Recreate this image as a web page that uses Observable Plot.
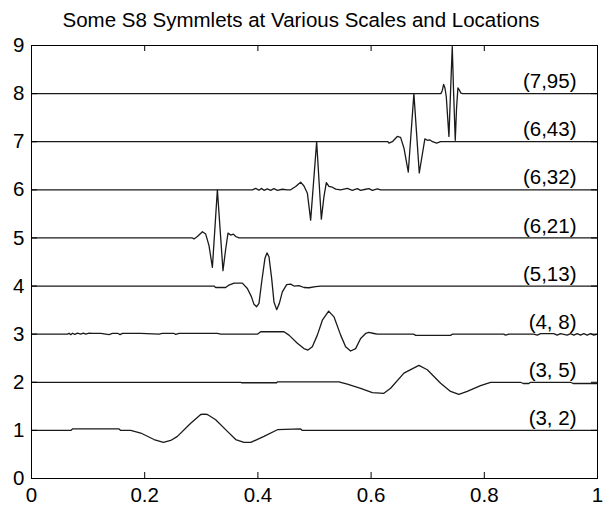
<!DOCTYPE html>
<html><head><meta charset="utf-8">
<script src="https://cdn.jsdelivr.net/npm/d3@7"></script>
<script src="https://cdn.jsdelivr.net/npm/@observablehq/plot@0.6"></script>
<style>body{margin:0;background:#fff}</style>
</head><body><div id="chart"></div>
<script>
const title = "Some S8 Symmlets at Various Scales and Locations";
const names = ["(3, 2)", "(3, 5)", "(4, 8)", "(5,13)", "(6,21)", "(6,32)", "(6,43)", "(7,95)"];
const levels = [1, 2, 3, 4, 5, 6, 7, 8];
const xTicks = [0, 0.2, 0.4, 0.6, 0.8, 1];
const yTicks = [0, 1, 2, 3, 4, 5, 6, 7, 8, 9];

// (3,2)
const w32_t = [0, 0.0694, 0.0724, 0.1547, 0.1577, 0.1753, 0.1930, 0.2165, 0.2331, 0.2460, 0.2578, 0.2813, 0.2990, 0.3048, 0.3108, 0.3254, 0.3461, 0.3608, 0.3755, 0.3873, 0.4107, 0.4344, 0.4755, 0.4785, 1];
const w32_v = [0, 0, 0.03, 0.03, 0, 0, -0.055, -0.19, -0.25, -0.21, -0.125, 0.15, 0.33, 0.34, 0.33, 0.22, -0.02, -0.19, -0.25, -0.25, -0.125, 0.014, 0.03, 0, 0];
// (3,5)
const w35_t = [0, 0.3696, 0.3710, 0.4330, 0.4344, 0.5440, 0.5462, 0.5580, 0.5815, 0.6022, 0.6226, 0.6345, 0.6580, 0.6844, 0.6993, 0.7228, 0.7404, 0.7551, 0.7699, 0.7934, 0.8111, 0.8640, 0.8688, 0.8787, 0.8817, 0.9523, 0.9571, 1];
const w35_v = [0, 0, -0.01, -0.01, 0.01, 0.01, 0, -0.04, -0.125, -0.215, -0.23, -0.125, 0.19, 0.35, 0.26, -0.02, -0.19, -0.25, -0.19, -0.07, 0, 0, -0.025, -0.025, 0, 0, -0.025, -0.025];
// (4,8)
const w48_t = [0, 0.0636, 0.0664, 0.0694, 0.0724, 0.0765, 0.0812, 0.0870, 0.0918, 0.0959, 0.1017, 0.1077, 0.1224, 0.1312, 0.1370, 0.1430, 0.1529, 0.1565, 0.1607, 0.1930, 0.2253, 0.2313, 0.2518, 0.2548, 0.2606, 0.3285, 0.3343, 0.3991, 0.4049, 0.4461, 0.4549, 0.4697, 0.4814, 0.4884, 0.4962, 0.5050, 0.5139, 0.5250, 0.5344, 0.5462, 0.5550, 0.5638, 0.5727, 0.5815, 0.5903, 0.5961, 0.6050, 0.6110, 0.6756, 0.6786, 0.7404, 0.7434, 0.8345, 0.8375, 0.8434, 0.8875, 0.8935, 0.8994, 0.9228, 0.9288, 0.9346, 0.9465, 0.9523, 0.9582, 0.9642, 0.9700, 0.9758, 0.9818, 0.9876, 0.9935, 1];
const w48_v = [0, 0, 0.02, -0.01, 0.02, -0.005, 0.02, 0, 0.02, 0, 0.02, 0.015, 0.015, 0, -0.01, 0.015, 0.015, -0.01, 0.015, 0.015, 0, 0.015, 0.015, -0.005, 0.015, 0.015, 0, 0, 0.05, 0.05, -0.02, -0.19, -0.30, -0.33, -0.26, -0.02, 0.29, 0.48, 0.36, -0.02, -0.26, -0.35, -0.30, -0.09, 0.014, 0.035, 0.014, 0, 0, -0.025, -0.025, 0, 0, -0.02, 0, 0, -0.02, 0.01, 0.01, -0.02, 0.01, -0.02, 0.01, -0.02, 0.01, -0.02, 0.01, -0.02, 0.01, -0.02, 0];
// (5,13)
const w513_t = [0, 0.3224, 0.3254, 0.3431, 0.3489, 0.3578, 0.3726, 0.3814, 0.3885, 0.3931, 0.3978, 0.4019, 0.4067, 0.4125, 0.4160, 0.4196, 0.4243, 0.4284, 0.4332, 0.4379, 0.4432, 0.4508, 0.4579, 0.4637, 0.4725, 0.4814, 0.4902, 0.5020, 0.5109, 1];
const w513_v = [0, 0, -0.03, -0.03, 0.02, 0.06, 0.06, -0.05, -0.22, -0.38, -0.43, -0.36, 0.09, 0.58, 0.69, 0.61, 0.16, -0.33, -0.49, -0.36, -0.12, 0.03, 0.04, 0, 0.01, -0.03, -0.035, -0.014, 0, 0];
// (6,21)
const w621_t = [0, 0.2843, 0.2871, 0.2931, 0.3020, 0.3078, 0.3136, 0.3196, 0.3284, 0.3383, 0.3431, 0.3472, 0.3519, 0.3567, 0.3608, 0.3666, 1];
const w621_v = [0, 0, -0.02, 0.03, 0.13, 0.08, -0.16, -0.61, 1.0, -0.68, -0.23, 0.10, 0.06, 0.08, 0.03, 0, 0];
// (6,32)
const w632_t = [0, 0.3903, 0.3961, 0.4019, 0.4061, 0.4107, 0.4167, 0.4226, 0.4284, 0.4344, 0.4432, 0.4521, 0.4579, 0.4667, 0.4755, 0.4814, 0.4874, 0.4932, 0.5038, 0.5121, 0.5167, 0.5209, 0.5255, 0.5315, 0.5374, 0.5462, 0.5580, 0.5668, 0.5757, 0.5815, 0.5903, 0.5961, 0.6022, 0.6110, 0.6168, 1];
const w632_v = [0, 0, 0.03, -0.01, 0.03, -0.01, 0.02, -0.01, 0.025, -0.01, 0.012, 0, 0, 0.07, 0.16, 0.08, -0.07, -0.63, 1.0, -0.61, -0.14, 0.15, 0.07, 0.055, 0.014, 0, 0.03, -0.01, 0.025, -0.01, 0.012, 0.025, -0.01, 0.02, 0, 0];
// (6,43)
const w643_t = [0, 0.6297, 0.6315, 0.6375, 0.6463, 0.6521, 0.6580, 0.6657, 0.6756, 0.6851, 0.6950, 0.6993, 0.7033, 0.7086, 0.7157, 0.7228, 1];
const w643_v = [0, 0, -0.03, 0, 0.11, 0.09, -0.13, -0.63, 1.0, -0.65, 0.06, 0.03, 0.04, 0, -0.03, 0, 0];
// (7,95)
const w795_t = [0, 0.7233, 0.7257, 0.7281, 0.7304, 0.7328, 0.7375, 0.7404, 0.7434, 0.7457, 0.7487, 0.7510, 0.7534, 0.7557, 0.7587, 0.7616, 1];
const w795_v = [0, 0, 0.06, 0.19, 0.12, -0.06, -0.89, 0.05, 0.98, 0.05, -0.97, -0.3, 0.12, 0.08, 0.01, 0, 0];

const series = [
  [w32_t, w32_v], [w35_t, w35_v], [w48_t, w48_v], [w513_t, w513_v],
  [w621_t, w621_v], [w632_t, w632_v], [w643_t, w643_v], [w795_t, w795_v]
];
const rows = [];
series.forEach(([ts, vs], i) => {
  ts.forEach((t, j) => rows.push({name: names[i], t, y: levels[i] + vs[j]}));
});

const W = 608, H = 508;
const mL = 31, mR = 11, mT = 45, mB = 30;
const frameH = H - mT - mB, frameW = W - mL - mR;
const font = "'Liberation Sans', Arial, Helvetica, sans-serif";

const chart = Plot.plot({
  width: W, height: H,
  marginLeft: mL, marginRight: mR, marginTop: mT, marginBottom: mB,
  style: {fontFamily: font, fontSize: "20px", color: "#000", background: "#fff", overflow: "visible"},
  x: {domain: [0, 1]},
  y: {domain: [0, 9]},
  marks: [
    Plot.line(rows, {x: "t", y: "y", z: "name", stroke: "#1a1a1a", strokeWidth: 1.3}),
    Plot.frame({stroke: "#000", strokeWidth: 1}),
    Plot.tickX(xTicks, {x: d => d, insetTop: frameH - 6, stroke: "#000"}),
    Plot.tickX(xTicks, {x: d => d, insetBottom: frameH - 6, stroke: "#000"}),
    Plot.tickY(yTicks, {y: d => d, insetRight: frameW - 6, stroke: "#000"}),
    Plot.tickY(yTicks, {y: d => d, insetLeft: frameW - 6, stroke: "#000"}),
    Plot.axisX(xTicks, {tickSize: 0, tickPadding: 9, tickFormat: d => String(d), fontSize: 20.5, label: null}),
    Plot.axisY(yTicks, {tickSize: 0, tickPadding: 7, tickFormat: d => String(d), fontSize: 20.5, label: null}),
    Plot.text(levels, {y: d => d, text: (d, i) => names[i], frameAnchor: "right", textAnchor: "end", lineAnchor: "middle", dx: -21, dy: -12, fontSize: 20.5, fill: "#000"}),
    Plot.text([title], {text: d => d, frameAnchor: "top-left", textAnchor: "start", lineAnchor: "middle", dx: 31, dy: -25, fontSize: 20.5, fill: "#000"})
  ]
});
document.getElementById("chart").appendChild(chart);
</script>
</body></html>
